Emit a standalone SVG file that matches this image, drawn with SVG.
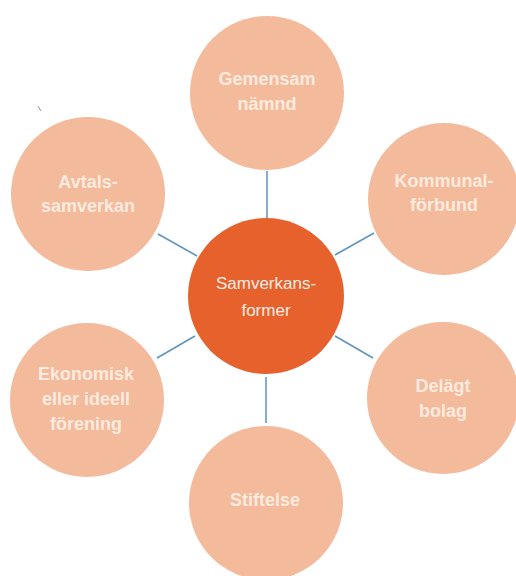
<svg xmlns="http://www.w3.org/2000/svg" width="516" height="576" viewBox="0 0 516 576">
<style>
.outer{fill:#F4BA9C}
.center{fill:#E6612C}
.lbl{font-family:"Liberation Sans",Arial,sans-serif;font-size:18px;font-weight:bold;fill:#FCEBDE;text-anchor:middle;dominant-baseline:central}
.clbl{font-family:"Liberation Sans",Arial,sans-serif;font-size:17px;fill:#FCEDE3;text-anchor:middle;dominant-baseline:central}
.conn line{stroke:#5E93BE;stroke-width:1.5}
</style>
<rect width="516" height="576" fill="#FFFFFF"/>
<g class="conn" id="connectors">
<line x1="267" y1="171" x2="267" y2="219"/>
<line x1="158" y1="234" x2="197" y2="256"/>
<line x1="335" y1="255" x2="374" y2="233"/>
<line x1="157" y1="358" x2="195" y2="336"/>
<line x1="335" y1="336" x2="373" y2="358"/>
<line x1="266" y1="377" x2="266" y2="423"/>
</g>
<line x1="38" y1="106" x2="41" y2="111" stroke="#777" stroke-width="0.8"/>
<g id="gemensam"><circle class="outer" cx="267" cy="93" r="77"/><text class="lbl" x="267" y="79">Gemensam</text><text class="lbl" x="267" y="104">nämnd</text></g>
<g id="avtals"><circle class="outer" cx="88" cy="194" r="77"/><text class="lbl" x="88" y="182">Avtals-</text><text class="lbl" x="88" y="206">samverkan</text></g>
<g id="kommunal"><circle class="outer" cx="444" cy="199" r="76"/><text class="lbl" x="444" y="181">Kommunal-</text><text class="lbl" x="444" y="205">förbund</text></g>
<g id="samverkansformer"><circle class="center" cx="266" cy="296" r="78"/><text class="clbl" x="266" y="283">Samverkans-</text><text class="clbl" x="266" y="310">former</text></g>
<g id="ekonomisk"><circle class="outer" cx="87" cy="400" r="77"/><text class="lbl" x="86" y="374">Ekonomisk</text><text class="lbl" x="86" y="399">eller ideell</text><text class="lbl" x="86" y="424">förening</text></g>
<g id="delagt"><circle class="outer" cx="443" cy="398" r="76"/><text class="lbl" x="443" y="386">Delägt</text><text class="lbl" x="443" y="411">bolag</text></g>
<g id="stiftelse"><circle class="outer" cx="266" cy="503" r="77"/><text class="lbl" x="265" y="500">Stiftelse</text></g>
</svg>
